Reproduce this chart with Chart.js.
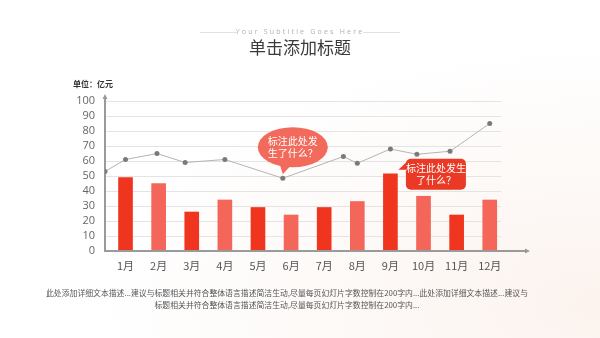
<!DOCTYPE html>
<html>
<head>
<meta charset="utf-8">
<script src="https://cdn.jsdelivr.net/npm/chart.js@4.4.1/dist/chart.umd.min.js"></script>
<style>
    body { margin: 0; }
    .page {
        position: relative;
        width: 600px;
        height: 338px;
        overflow: hidden;
        background: radial-gradient(ellipse at 100% 90%, #fcf3ee 0%, #fdf9f7 30%, #ffffff 60%);
        font-family: "Noto Sans CJK SC", "Noto Sans", sans-serif;
    }
    #chart { position: absolute; left: 0; top: 0; }
    .subtitle {
        position: absolute; left: 0; width: 600px; top: 27px;
        text-align: center; font-size: 7px; letter-spacing: 2.2px; color: #b0b0b0;
        font-family: "Open Sans", sans-serif;
    }
    .rule { position: absolute; top: 32px; height: 1px; background: #e2e2e2; width: 37px; }
    .title {
        position: absolute; left: 0; width: 600px; top: 35px;
        text-align: center; font-size: 17px; color: #3a3a3a; line-height: 24px;
    }
    .unit {
        position: absolute; left: 73px; top: 78px;
        font-size: 8px; font-weight: bold; color: #333;
    }
    .desc {
        position: absolute; left: 0; width: 574px; top: 287px;
        text-align: center; font-size: 7.85px; color: #555; line-height: 12px;
        white-space: nowrap;
    }
</style>
</head>
<body>
<div class="page">
    <canvas id="chart" width="600" height="338"></canvas>
    <div class="rule" style="left:200px"></div>
    <div class="rule" style="left:363px"></div>
    <div class="subtitle">Your Subtitle Goes Here</div>
    <div class="title">单击添加标题</div>
    <div class="unit">单位：亿元</div>
    <div class="desc">此处添加详细文本描述...建议与标题相关并符合整体语言描述简洁生动,尽量每页幻灯片字数控制在200字内...此处添加详细文本描述...建议与<br>标题相关并符合整体语言描述简洁生动,尽量每页幻灯片字数控制在200字内...</div>
</div>
<script>
const months = ['1月', '2月', '3月', '4月', '5月', '6月', '7月', '8月', '9月', '10月', '11月', '12月'];
const barValues = [49, 45, 26, 34, 29, 24, 29, 33, 51.5, 36.5, 24, 34];
// the line points don't sit on the month centres, so they carry their own x
const lineX = [-0.62, 0, 0.95, 1.8, 3.0, 4.75, 6.58, 7.0, 8.0, 8.8, 9.8, 11.0];
const lineValues = [53, 61, 65, 59, 61, 48.5, 63, 58.5, 68, 64.5, 66.5, 85];
const yTicks = [0, 10, 20, 30, 40, 50, 60, 70, 80, 90, 100];
const callouts = [
    { dataset: 1, index: 5, lines: ['标注此处发', '生了什么？'], shape: 'ellipse', color: '#f26a5c' },
    { dataset: 0, index: 8, lines: ['标注此处发生', '了什么？'], shape: 'rect', color: '#ea3a25' }
];

const darkRed = '#f0351f';
const lightRed = '#f4665a';
const cjk = '"Noto Sans CJK SC", sans-serif';

const axesPlugin = {
    id: 'axes',
    beforeDatasetsDraw(chart) {
        const { ctx, chartArea } = chart;
        const y0 = chart.scales.y.getPixelForValue(0);
        ctx.save();
        ctx.strokeStyle = '#9a9a9a';
        ctx.fillStyle = '#9a9a9a';
        ctx.lineWidth = 2;
        // y axis with small arrow
        ctx.beginPath();
        ctx.moveTo(chartArea.left, y0);
        ctx.lineTo(chartArea.left, chartArea.top - 5);
        ctx.stroke();
        ctx.beginPath();
        ctx.moveTo(chartArea.left - 2.5, chartArea.top - 2);
        ctx.lineTo(chartArea.left, chartArea.top - 7);
        ctx.lineTo(chartArea.left + 2.5, chartArea.top - 2);
        ctx.closePath();
        ctx.fill();
        ctx.restore();
    },
    afterDatasetsDraw(chart) {
        const { ctx, chartArea } = chart;
        const y0 = chart.scales.y.getPixelForValue(0);
        ctx.save();
        ctx.strokeStyle = '#9a9a9a';
        ctx.fillStyle = '#9a9a9a';
        ctx.lineWidth = 2;
        ctx.beginPath();
        ctx.moveTo(chartArea.left - 1, y0);
        ctx.lineTo(chartArea.right + 26, y0);
        ctx.stroke();
        ctx.beginPath();
        ctx.moveTo(chartArea.right + 24, y0 - 2.5);
        ctx.lineTo(chartArea.right + 29, y0);
        ctx.lineTo(chartArea.right + 24, y0 + 2.5);
        ctx.closePath();
        ctx.fill();
        ctx.restore();
    }
};

const calloutPlugin = {
    id: 'callouts',
    afterDatasetsDraw(chart) {
        const ctx = chart.ctx;
        callouts.forEach(c => {
            const el = chart.getDatasetMeta(c.dataset).data[c.index];
            ctx.save();
            ctx.fillStyle = c.color;
            let cx, cy;
            if (c.shape === 'ellipse') {
                const tipX = el.x, tipY = el.y - 4;
                cx = tipX + 10; cy = tipY - 27;
                ctx.beginPath();
                ctx.ellipse(cx, cy, 35, 20, 0, 0, Math.PI * 2);
                ctx.fill();
                ctx.beginPath();
                ctx.moveTo(tipX - 4, cy + 14);
                ctx.lineTo(tipX, tipY);
                ctx.lineTo(tipX + 10, cy + 16);
                ctx.closePath();
                ctx.fill();
            } else {
                const tipX = el.x + el.width / 2 + 1, tipY = el.y - 4;
                const x = tipX + 7.5, y = tipY - 11, w = 60, h = 31;
                cx = x + w / 2; cy = y + h / 2;
                ctx.beginPath();
                ctx.roundRect(x, y, w, h, 5);
                ctx.fill();
                ctx.beginPath();
                ctx.moveTo(x + 1, y + 3);
                ctx.lineTo(tipX, tipY);
                ctx.lineTo(x + 1, y + 11);
                ctx.closePath();
                ctx.fill();
            }
            ctx.fillStyle = '#ffffff';
            ctx.font = '10px ' + cjk;
            ctx.textAlign = 'center';
            ctx.textBaseline = 'middle';
            ctx.fillText(c.lines[0], cx, cy - 6);
            ctx.fillText(c.lines[1], cx, cy + 6);
            ctx.restore();
        });
    }
};

new Chart(document.getElementById('chart'), {
    type: 'bar',
    data: {
        datasets: [
            {
                type: 'bar',
                data: barValues.map((v, i) => ({ x: i, y: v })),
                backgroundColor: barValues.map((v, i) => i % 2 === 0 ? darkRed : lightRed),
                barThickness: 14,
                borderWidth: 0,
                order: 2
            },
            {
                type: 'line',
                data: lineValues.map((v, i) => ({ x: lineX[i], y: v })),
                borderColor: '#b4b4b4',
                borderWidth: 1,
                pointRadius: 2.5,
                pointBackgroundColor: '#7a7a7a',
                pointBorderWidth: 0,
                tension: 0,
                order: 1
            }
        ]
    },
    options: {
        responsive: false,
        animation: false,
        events: [],
        layout: { padding: { left: 70, right: 99, top: 101, bottom: 59 } },
        plugins: {
            legend: { display: false },
            tooltip: { enabled: false }
        },
        scales: {
            x: {
                type: 'linear',
                offset: false,
                min: -0.62,
                max: 11.34,
                afterBuildTicks(scale) {
                    scale.ticks = months.map((m, i) => ({ value: i }));
                },
                afterFit(scale) { scale.height = 28; },
                grid: { display: false },
                border: { display: false },
                ticks: {
                    callback: (v) => months[v],
                    color: '#555',
                    font: { family: cjk, size: 11 },
                    padding: 0,
                    maxRotation: 0,
                    autoSkip: false
                }
            },
            y: {
                min: 0,
                max: 100,
                afterBuildTicks(scale) {
                    scale.ticks = yTicks.map(v => ({ value: v }));
                },
                afterFit(scale) { scale.width = 35; },
                grid: { color: '#e4e4e4', lineWidth: 1, drawTicks: false },
                border: { display: false },
                ticks: {
                    color: '#666',
                    font: { family: '"Open Sans", sans-serif', size: 11 },
                    padding: 10,
                    autoSkip: false
                }
            }
        }
    },
    plugins: [axesPlugin, calloutPlugin]
});
</script>
</body>
</html>
